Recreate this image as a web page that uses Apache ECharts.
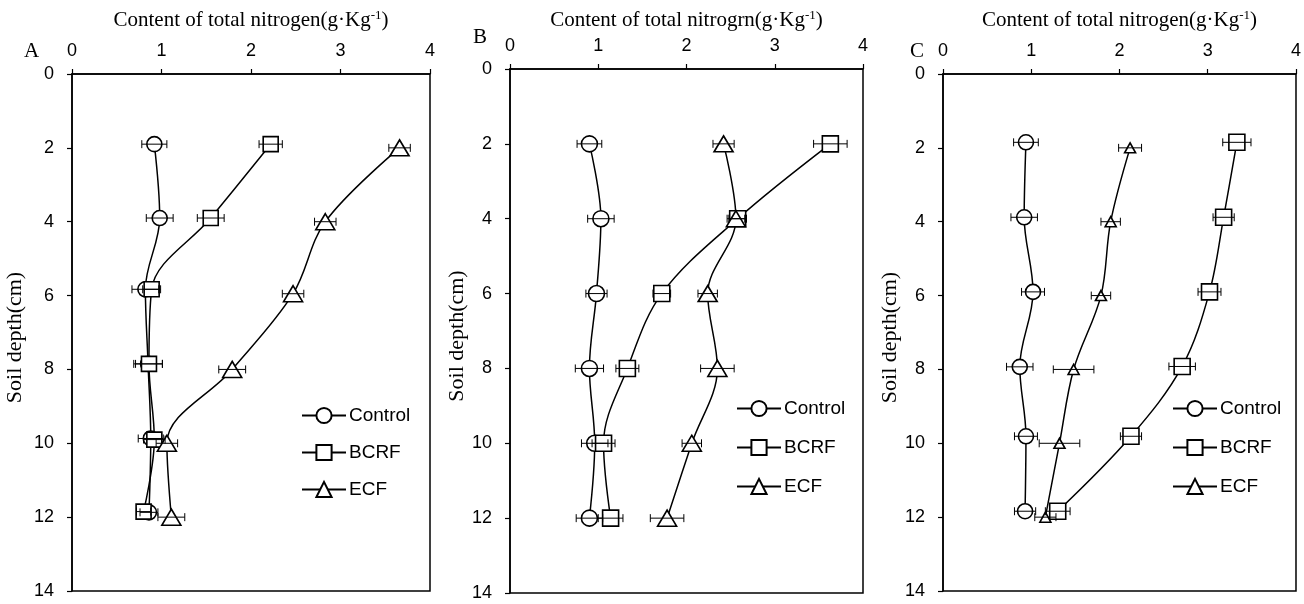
<!DOCTYPE html>
<html>
<head>
<meta charset="utf-8">
<script src="https://cdn.jsdelivr.net/npm/echarts@6/dist/echarts.min.js"></script>
<style>
html, body { margin: 0; padding: 0; background: #fff; }
#chart { width: 1304px; height: 604px; }
</style>
</head>
<body>
<div id="chart"></div>
<script>
var seriesNames = ["Control", "BCRF", "ECF"];
var panelLabels = ["A", "B", "C"];
var xTitles = [
  "Content of total nitrogen(g·Kg",
  "Content of total nitrogrn(g·Kg",
  "Content of total nitrogen(g·Kg"
];
var depthNominal = [2, 4, 6, 8, 10, 12];

// panel A
var aControlX = [0.92, 0.98, 0.82, 0.85, 0.88, 0.86];
var aControlD = [1.9, 3.9, 5.83, 7.85, 9.87, 11.87];
var aControlE = [0.14, 0.15, 0.15, 0.16, 0.14, 0.1];
var aBcrfX = [2.22, 1.55, 0.89, 0.86, 0.92, 0.8];
var aBcrfD = [1.9, 3.9, 5.83, 7.85, 9.9, 11.85];
var aBcrfE = [0.13, 0.15, 0.1, 0.15, 0.12, 0.08];
var aEcfX = [3.66, 2.83, 2.47, 1.79, 1.06, 1.11];
var aEcfD = [2, 4, 5.95, 8, 10, 12];
var aEcfE = [0.12, 0.12, 0.12, 0.15, 0.12, 0.15];

// panel B
var bControlX = [0.9, 1.03, 0.98, 0.9, 0.96, 0.9];
var bControlE = [0.14, 0.15, 0.12, 0.16, 0.15, 0.15];
var bBcrfX = [3.63, 2.58, 1.72, 1.33, 1.06, 1.14];
var bBcrfE = [0.19, 0.1, 0.1, 0.13, 0.13, 0.14];
var bEcfX = [2.42, 2.56, 2.24, 2.35, 2.06, 1.78];
var bEcfE = [0.12, 0.1, 0.11, 0.19, 0.11, 0.19];

// panel C
var cControlX = [0.94, 0.92, 1.02, 0.87, 0.94, 0.93];
var cControlD = [1.85, 3.88, 5.9, 7.93, 9.81, 11.84];
var cControlE = [0.14, 0.15, 0.13, 0.15, 0.13, 0.12];
var cBcrfX = [3.33, 3.18, 3.02, 2.71, 2.13, 1.3];
var cBcrfD = [1.85, 3.88, 5.9, 7.92, 9.81, 11.84];
var cBcrfE = [0.16, 0.12, 0.13, 0.15, 0.12, 0.14];
var cEcfX = [2.12, 1.9, 1.79, 1.48, 1.32, 1.16];
var cEcfE = [0.13, 0.11, 0.11, 0.23, 0.23, 0.12];

var grids = [
  { left: 72, top: 74, width: 358, height: 517 },
  { left: 510, top: 69, width: 353, height: 524 },
  { left: 943, top: 74, width: 355, height: 517 }
];
var yNameGaps = [46, 36, 40];
// legend left, top, gap
var legendPos = [[296, 401, 18], [731, 394, 20], [1167, 394, 20]];

var sans = "Liberation Sans";
var serif = "Liberation Serif";

function lineSeries(name, xs, ds, gi, symbol, size) {
  return {
    type: "line",
    name: name,
    xAxisIndex: gi,
    yAxisIndex: gi,
    data: xs.map(function (x, i) { return [x, ds[i]]; }),
    smooth: 0.35,
    symbol: symbol,
    symbolSize: size,
    showAllSymbol: true,
    lineStyle: { color: "#000", width: 1.5 },
    itemStyle: { color: "#fff", borderColor: "#000", borderWidth: 1.6 },
    emphasis: { disabled: true },
    z: 3
  };
}

function errRender(params, api) {
  var x = api.value(0), y = api.value(1), e = api.value(2);
  var lo = api.coord([x - e, y]);
  var hi = api.coord([x + e, y]);
  var cap = 4;
  var st = { stroke: "#000", lineWidth: 1 };
  return {
    type: "group",
    children: [
      { type: "line", shape: { x1: lo[0], y1: lo[1], x2: hi[0], y2: hi[1] }, style: st },
      { type: "line", shape: { x1: lo[0], y1: lo[1] - cap, x2: lo[0], y2: lo[1] + cap }, style: st },
      { type: "line", shape: { x1: hi[0], y1: hi[1] - cap, x2: hi[0], y2: hi[1] + cap }, style: st }
    ]
  };
}

function errSeries(xs, ds, es, gi) {
  return {
    type: "custom",
    xAxisIndex: gi,
    yAxisIndex: gi,
    renderItem: errRender,
    encode: { x: 0, y: 1 },
    data: xs.map(function (x, i) { return [x, ds[i], es[i]]; }),
    silent: true,
    z: 4
  };
}

var panelData = [
  [[aControlX, aControlD, aControlE], [aBcrfX, aBcrfD, aBcrfE], [aEcfX, aEcfD, aEcfE]],
  [[bControlX, depthNominal, bControlE], [bBcrfX, depthNominal, bBcrfE], [bEcfX, depthNominal, bEcfE]],
  [[cControlX, cControlD, cControlE], [cBcrfX, cBcrfD, cBcrfE], [cEcfX, depthNominal, cEcfE]]
];
var symbols = ["circle", "rect", "triangle"];
var symbolSizes = [
  [15, 15, [19, 16]],
  [16, 16, [19, 16]],
  [15, 16, [11, 10]]
];

var series = [];
panelData.forEach(function (pd, gi) {
  pd.forEach(function (s, si) {
    series.push(lineSeries(seriesNames[si], s[0], s[1], gi, symbols[si], symbolSizes[gi][si]));
  });
  pd.forEach(function (s) {
    series.push(errSeries(s[0], s[1], s[2], gi));
  });
});

var xAxes = grids.map(function (g, i) {
  return {
    gridIndex: i,
    type: "value",
    position: "top",
    min: 0,
    max: 4,
    interval: 1,
    name: "{t|" + xTitles[i] + "}{s|-1}{t|)}",
    nameLocation: "middle",
    nameGap: i === 1 ? 37 : 42,
    nameTextStyle: {
      rich: {
        t: { fontFamily: serif, fontSize: 21, color: "#000", lineHeight: 23 },
        s: { fontFamily: serif, fontSize: 13, color: "#000", lineHeight: 14, verticalAlign: "top" }
      }
    },
    axisLine: { show: true, lineStyle: { color: "#000", width: 1.5 } },
    axisTick: { show: true, length: 5, lineStyle: { color: "#000", width: 1.2 } },
    axisLabel: { fontFamily: sans, fontSize: 18, color: "#000", margin: 14 },
    splitLine: { show: false }
  };
});

var yAxes = grids.map(function (g, i) {
  return {
    gridIndex: i,
    type: "value",
    inverse: true,
    min: 0,
    max: 14,
    interval: 2,
    name: "Soil depth(cm)",
    nameLocation: "middle",
    nameGap: yNameGaps[i],
    nameTextStyle: { fontFamily: serif, fontSize: 22, color: "#000", padding: [0, 10, 0, 0] },
    axisLine: { show: true, lineStyle: { color: "#000", width: 1.5 } },
    axisTick: { show: true, length: 5, lineStyle: { color: "#000", width: 1.2 } },
    axisLabel: { fontFamily: sans, fontSize: 18, color: "#000", margin: 18 },
    splitLine: { show: false }
  };
});

var option = {
  backgroundColor: "#fff",
  animation: false,
  title: [
    { text: panelLabels[0], left: 19, top: 36 },
    { text: panelLabels[1], left: 468, top: 22 },
    { text: panelLabels[2], left: 905, top: 36 }
  ].map(function (t) {
    t.textStyle = { fontFamily: serif, fontSize: 21, fontWeight: "normal", color: "#000" };
    return t;
  }),
  grid: grids.map(function (g) {
    return {
      left: g.left, top: g.top, width: g.width, height: g.height,
      show: true, borderColor: "#000", borderWidth: 1.5, backgroundColor: "transparent"
    };
  }),
  legend: legendPos.map(function (p) {
    return {
      data: seriesNames,
      orient: "vertical",
      left: p[0],
      top: p[1],
      itemWidth: 44,
      itemHeight: 19,
      itemGap: p[2],
      selectedMode: false,
      textStyle: { fontFamily: sans, fontSize: 19, color: "#000", padding: [0, 0, 0, -2] }
    };
  }),
  xAxis: xAxes,
  yAxis: yAxes,
  series: series
};

var chart = echarts.init(document.getElementById("chart"));
chart.setOption(option);
</script>
</body>
</html>
